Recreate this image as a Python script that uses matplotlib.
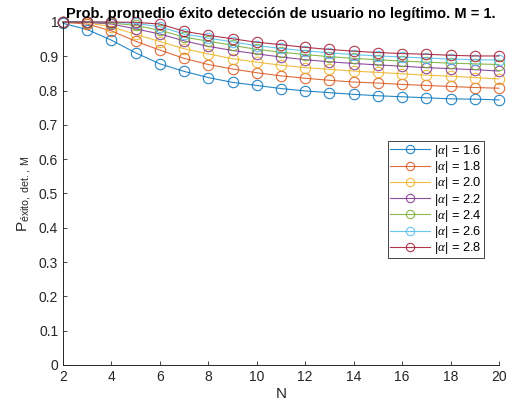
import matplotlib.pyplot as plt

plt.rcParams['font.family'] = ['Liberation Sans', 'DejaVu Sans']
plt.rcParams['mathtext.fontset'] = 'custom'
plt.rcParams['mathtext.rm'] = 'Liberation Sans'
plt.rcParams['mathtext.it'] = 'Liberation Serif:italic'

N = list(range(2, 21))
alphas = ['1.6', '1.8', '2.0', '2.2', '2.4', '2.6', '2.8']

p_16 = [0.996, 0.978, 0.947, 0.910, 0.878, 0.856, 0.838, 0.824, 0.815, 0.806,
        0.799, 0.794, 0.789, 0.785, 0.782, 0.779, 0.776, 0.775, 0.773]
p_18 = [0.999, 0.994, 0.974, 0.944, 0.918, 0.894, 0.876, 0.863, 0.852, 0.843,
        0.836, 0.830, 0.825, 0.822, 0.818, 0.815, 0.812, 0.809, 0.807]
p_20 = [1.000, 0.998, 0.986, 0.964, 0.943, 0.922, 0.907, 0.893, 0.883, 0.874,
        0.867, 0.862, 0.857, 0.853, 0.849, 0.845, 0.842, 0.838, 0.834]
p_22 = [1.000, 0.999, 0.994, 0.980, 0.965, 0.945, 0.929, 0.917, 0.907, 0.898,
        0.890, 0.884, 0.879, 0.875, 0.871, 0.867, 0.864, 0.861, 0.857]
p_24 = [1.000, 1.000, 0.997, 0.990, 0.976, 0.956, 0.944, 0.932, 0.920, 0.912,
        0.905, 0.899, 0.894, 0.890, 0.886, 0.883, 0.880, 0.878, 0.876]
p_26 = [1.000, 1.000, 0.999, 0.996, 0.986, 0.965, 0.953, 0.942, 0.931, 0.923,
        0.916, 0.910, 0.905, 0.901, 0.898, 0.895, 0.892, 0.890, 0.889]
p_28 = [1.000, 1.000, 1.000, 0.999, 0.994, 0.973, 0.961, 0.951, 0.941, 0.934,
        0.926, 0.920, 0.915, 0.911, 0.908, 0.906, 0.903, 0.901, 0.901]

series = [p_16, p_18, p_20, p_22, p_24, p_26, p_28]
colors = ['#0072BD', '#D95319', '#EDB120', '#7E2F8E', '#77AC30', '#4DBEEE', '#A2142F']

fig = plt.figure(figsize=(5.08, 4.09), dpi=100)
ax = fig.add_axes([63 / 508, 1 - 365 / 409, 436 / 508, 343 / 409])

for a, p, c in zip(alphas, series, colors):
    ax.plot(N, p, color=c, lw=0.8, marker='o', ms=7.5, mfc='none', mew=0.8,
            label=r'$|\alpha|$ = ' + a, alpha=0.85, clip_on=False)

ax.set_xlim(2, 20)
ax.set_ylim(0, 1)
ax.set_xticks(range(2, 21, 2))
ax.set_yticks([i / 10 for i in range(11)])
ax.set_yticklabels(['0', '0.1', '0.2', '0.3', '0.4', '0.5', '0.6', '0.7', '0.8', '0.9', '1'])
ax.spines['top'].set_visible(False)
ax.spines['right'].set_visible(False)
for s in ['left', 'bottom']:
    ax.spines[s].set_color('#262626')
    ax.spines[s].set_linewidth(0.7)
ax.tick_params(direction='in', length=3, width=0.6, labelsize=10, colors='#262626')

ax.set_xlabel('N', fontsize=11, color='#262626', labelpad=2)
ax.set_ylabel(r'P$_{\mathrm{éxito,\ det.,\ M}}$', fontsize=11, color='#262626', labelpad=4)
ax.set_title('Prob. promedio éxito detección de usuario no legítimo. M = 1.',
             fontsize=10.5, fontweight='bold', pad=3)

leg = ax.legend(loc='upper right', bbox_to_anchor=(484 / 508, 1 - 141 / 409),
                bbox_transform=fig.transFigure, fontsize=9.3, fancybox=False,
                framealpha=1, edgecolor='#262626', handlelength=3.1,
                markerscale=0.8, borderpad=0.15, labelspacing=0.02,
                handletextpad=0.3, borderaxespad=0)
leg.get_frame().set_linewidth(0.6)

fig.savefig('out.png', dpi=100)
